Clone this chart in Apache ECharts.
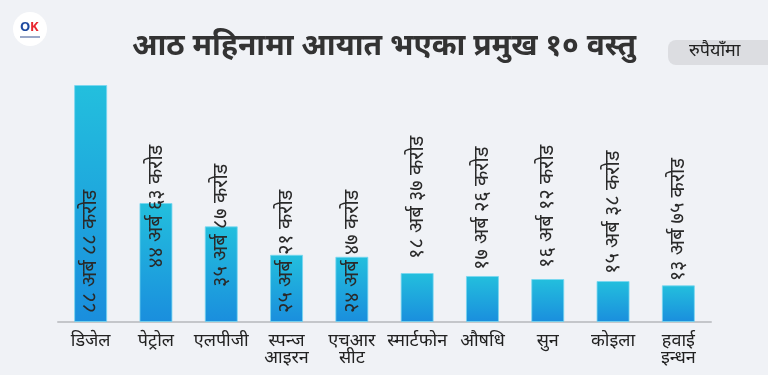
<!DOCTYPE html>
<html>
<head>
<meta charset="utf-8">
<script src="https://cdn.jsdelivr.net/npm/echarts@6/dist/echarts.min.js"></script>
<style>
  html, body { margin: 0; padding: 0; background: #f0f2f6; }
  #chart { width: 768px; height: 375px; }
</style>
</head>
<body>
<div id="chart"></div>
<script>
// data (अर्ब रुपैयाँ)
const categories = ['डिजेल', 'पेट्रोल', 'एलपीजी', 'स्पन्ज\nआइरन', 'एचआर\nसीट', 'स्मार्टफोन', 'औषधि', 'सुन', 'कोइला', 'हवाई\nइन्धन']
const values = [88.88, 44.63, 35.87, 25.21, 24.47, 18.37, 17.26, 16.12, 15.38, 13.75]
const valueLabels = [
  '८८ अर्ब ८८ करोड', '४४ अर्ब ६३ करोड', '३५ अर्ब ८७ करोड', '२५ अर्ब २१ करोड', '२४ अर्ब ४७ करोड',
  '१८ अर्ब ३७ करोड', '१७ अर्ब २६ करोड', '१६ अर्ब १२ करोड', '१५ अर्ब ३८ करोड', '१३ अर्ब ७५ करोड'
]

// label placement: first five sit inside from the bottom, rest above the bar
const labelDistance = [9, 54, 35, 9, 9, 14, 6, 11, 7, 4]

const font = "'Noto Sans', sans-serif"
const chart = echarts.init(document.getElementById('chart'))

const option = {
  backgroundColor: '#f0f2f6',
  graphic: [
    // logo
    { type: 'circle', shape: { cx: 30, cy: 29, r: 17 }, style: { fill: '#ffffff' } },
    { type: 'text', left: 20, top: 21, style: { text: 'O', fill: '#1f4aa0', font: 'bold 13px ' + font } },
    { type: 'text', left: 30, top: 21, style: { text: 'K', fill: '#e8262e', font: 'bold 13px ' + font } },
    { type: 'rect', shape: { x: 20, y: 36, width: 20, height: 2 }, style: { fill: '#9aa8c8' } },
    // unit badge
    { type: 'rect', shape: { x: 668, y: 40, width: 110, height: 25, r: 8 }, style: { fill: '#dcdde1' } },
    { type: 'text', left: 689, top: 42, style: { text: 'रुपैयाँमा', fill: '#222', font: '18px ' + font } }
  ],
  title: {
    text: 'आठ महिनामा आयात भएका प्रमुख १० वस्तु',
    left: 'center',
    top: 26,
    textStyle: { color: '#333', fontSize: 30, fontWeight: 'bold', fontFamily: font }
  },
  grid: { left: 58, right: 57, top: 85, bottom: 53 },
  xAxis: {
    type: 'category',
    data: categories,
    axisLine: { lineStyle: { color: '#c4c6ca', width: 2 } },
    axisTick: { show: false },
    axisLabel: { color: '#222', fontSize: 18, lineHeight: 17, margin: 10, fontFamily: font, interval: 0 }
  },
  yAxis: {
    type: 'value',
    show: false,
    min: 0,
    max: (v) => v.max
  },
  series: [{
    type: 'bar',
    barWidth: 33,
    data: values.map((v, i) => ({
      value: v,
      label: {
        position: i < 5 ? 'insideBottom' : 'top',
        distance: labelDistance[i]
      }
    })),
    itemStyle: {
      color: new echarts.graphic.LinearGradient(0, 0, 0, 1, [
        { offset: 0, color: '#23bfdd' },
        { offset: 1, color: '#1a8edd' }
      ]),
      borderColor: 'rgba(120,215,240,0.8)',
      borderWidth: 1
    },
    label: {
      show: true,
      rotate: 90,
      align: 'left',
      verticalAlign: 'middle',
      color: '#2a2a2a',
      fontSize: 20,
      fontFamily: font,
      formatter: (p) => valueLabels[p.dataIndex]
    }
  }]
}
chart.setOption(option)
</script>
</body>
</html>
